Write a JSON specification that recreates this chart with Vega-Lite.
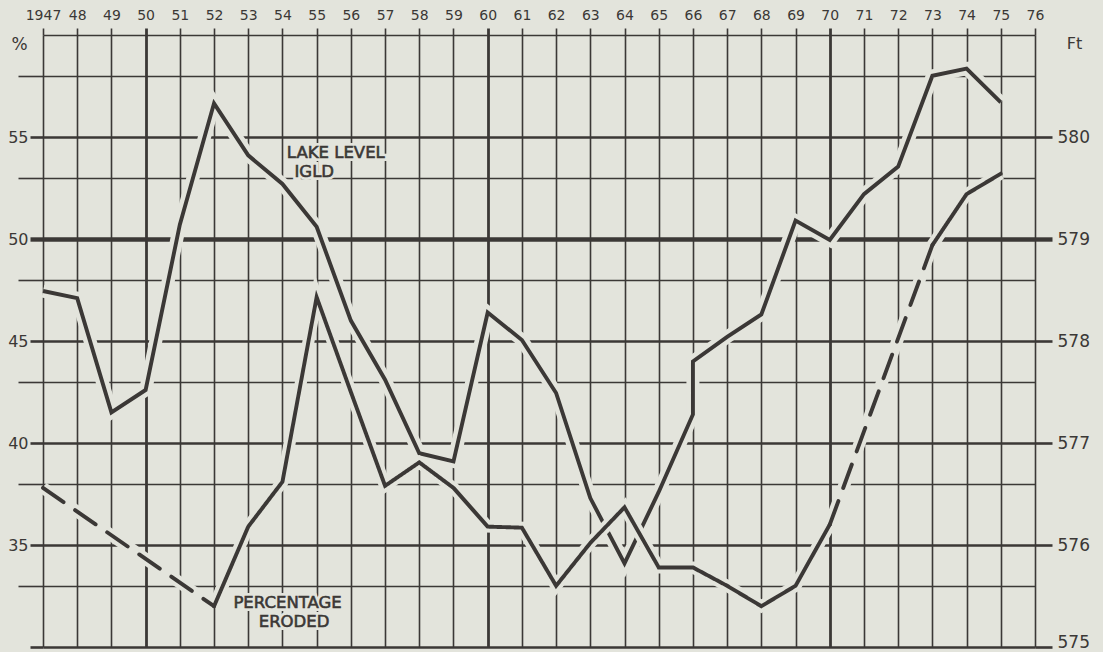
{
  "$schema": "https://vega.github.io/schema/vega-lite/v6.json",
  "width": 992,
  "height": 612,
  "autosize": {"type": "none"},
  "padding": {"left": 43, "top": 35, "right": 68, "bottom": 5},
  "background": "#e3e4dc",
  "config": {
    "view": {"stroke": null},
    "font": "DejaVu Sans",
    "axis": {
      "labelFont": "DejaVu Sans",
      "titleFont": "DejaVu Sans",
      "labelColor": "#3b3836",
      "titleColor": "#3b3836",
      "tickColor": "#3b3836",
      "gridColor": "#3b3836",
      "gridOpacity": 1,
      "domain": false,
      "labelOverlap": false,
      "labelFlush": false
    }
  },
  "datasets": {
    "lake": [
      {"year": 1947, "level_ft": 578.49},
      {"year": 1948, "level_ft": 578.42},
      {"year": 1949, "level_ft": 577.30},
      {"year": 1950, "level_ft": 577.52},
      {"year": 1951, "level_ft": 579.14},
      {"year": 1952, "level_ft": 580.33},
      {"year": 1953, "level_ft": 579.82},
      {"year": 1954, "level_ft": 579.54},
      {"year": 1955, "level_ft": 579.12},
      {"year": 1956, "level_ft": 578.20},
      {"year": 1957, "level_ft": 577.62},
      {"year": 1958, "level_ft": 576.90},
      {"year": 1959, "level_ft": 576.82},
      {"year": 1960, "level_ft": 578.28},
      {"year": 1961, "level_ft": 578.01},
      {"year": 1962, "level_ft": 577.49},
      {"year": 1963, "level_ft": 576.46},
      {"year": 1964, "level_ft": 575.82},
      {"year": 1965, "level_ft": 576.52},
      {"year": 1966, "level_ft": 577.28},
      {"year": 1966, "level_ft": 577.80},
      {"year": 1967, "level_ft": 578.04},
      {"year": 1968, "level_ft": 578.26},
      {"year": 1969, "level_ft": 579.18},
      {"year": 1970, "level_ft": 578.99},
      {"year": 1971, "level_ft": 579.44},
      {"year": 1972, "level_ft": 579.71},
      {"year": 1973, "level_ft": 580.60},
      {"year": 1974, "level_ft": 580.67},
      {"year": 1975, "level_ft": 580.34}
    ],
    "eroded": [
      {"year": 1947, "pct": 37.8, "type": "estimated", "part": "A"},
      {"year": 1952, "pct": 32.0, "type": "estimated", "part": "A"},
      {"year": 1952, "pct": 32.0, "type": "measured", "part": "B"},
      {"year": 1953, "pct": 35.9, "type": "measured", "part": "B"},
      {"year": 1954, "pct": 38.1, "type": "measured", "part": "B"},
      {"year": 1955, "pct": 47.15, "type": "measured", "part": "B"},
      {"year": 1956, "pct": 42.5, "type": "measured", "part": "B"},
      {"year": 1957, "pct": 37.9, "type": "measured", "part": "B"},
      {"year": 1958, "pct": 39.05, "type": "measured", "part": "B"},
      {"year": 1959, "pct": 37.8, "type": "measured", "part": "B"},
      {"year": 1960, "pct": 35.9, "type": "measured", "part": "B"},
      {"year": 1961, "pct": 35.85, "type": "measured", "part": "B"},
      {"year": 1962, "pct": 33.0, "type": "measured", "part": "B"},
      {"year": 1963, "pct": 35.1, "type": "measured", "part": "B"},
      {"year": 1964, "pct": 36.85, "type": "measured", "part": "B"},
      {"year": 1965, "pct": 33.9, "type": "measured", "part": "B"},
      {"year": 1966, "pct": 33.9, "type": "measured", "part": "B"},
      {"year": 1967, "pct": 33.0, "type": "measured", "part": "B"},
      {"year": 1968, "pct": 32.0, "type": "measured", "part": "B"},
      {"year": 1969, "pct": 33.0, "type": "measured", "part": "B"},
      {"year": 1970, "pct": 36.0, "type": "measured", "part": "B"},
      {"year": 1970, "pct": 36.0, "type": "estimated", "part": "C"},
      {"year": 1973, "pct": 49.7, "type": "estimated", "part": "C"},
      {"year": 1973, "pct": 49.7, "type": "measured", "part": "D"},
      {"year": 1974, "pct": 52.2, "type": "measured", "part": "D"},
      {"year": 1975, "pct": 53.2, "type": "measured", "part": "D"}
    ],
    "labels": [
      {"label": "LAKE LEVEL", "year": 1955.56, "pct": 54.23},
      {"label": "IGLD", "year": 1954.93, "pct": 53.3},
      {"label": "PERCENTAGE", "year": 1954.15, "pct": 32.14},
      {"label": "ERODED", "year": 1954.34, "pct": 31.21}
    ]
  },
  "layer": [
    {
      "data": {"name": "lake"},
      "mark": {"type": "line", "stroke": "#e3e4dc", "strokeWidth": 13, "strokeCap": "butt"},
      "encoding": {
        "x": {
          "field": "year", "type": "quantitative",
          "scale": {"domain": [1947, 1976], "nice": false, "zero": false},
          "axis": {
            "orient": "top",
            "values": [1947,1948,1949,1950,1951,1952,1953,1954,1955,1956,1957,1958,1959,1960,1961,1962,1963,1964,1965,1966,1967,1968,1969,1970,1971,1972,1973,1974,1975,1976],
            "labelExpr": "datum.value == 1947 ? '1947' : substring(toString(datum.value), 2, 4)",
            "labelFontSize": 14,
            "labelPadding": 6,
            "labelAngle": 0,
            "tickSize": 7,
            "tickWidth": {"condition": {"test": "datum.value % 10 == 0", "value": 2.8}, "value": 1.6},
            "grid": true,
            "gridWidth": {"condition": {"test": "datum.value % 10 == 0", "value": 2.8}, "value": 1.6},
            "title": null
          }
        },
        "y": {
          "field": "level_ft", "type": "quantitative",
          "scale": {"domain": [575, 581], "nice": false, "zero": false},
          "axis": {
            "orient": "right",
            "values": [575, 576, 577, 578, 579, 580],
            "format": "d",
            "labelFontSize": 17,
            "labelPadding": 5,
            "labelBaseline": {"condition": {"test": "datum.value == 575", "value": "alphabetic"}, "value": "middle"},
            "tickSize": 17,
            "tickWidth": {"condition": {"test": "datum.value == 579", "value": 4.4}, "value": 2.6},
            "grid": true,
            "gridWidth": {"condition": {"test": "datum.value == 579", "value": 4.4}, "value": 2.6},
            "title": "Ft",
            "titleAngle": 0,
            "titleX": 39,
            "titleY": 8,
            "titleAlign": "center",
            "titleBaseline": "middle",
            "titleFontSize": 16,
            "titleFontWeight": "normal"
          }
        }
      }
    },
    {
      "data": {"name": "lake"},
      "mark": {"type": "line", "stroke": "#3b3836", "strokeWidth": 3.9, "strokeJoin": "miter"},
      "encoding": {
        "x": {"field": "year", "type": "quantitative", "scale": {"domain": [1947, 1976], "nice": false, "zero": false}, "axis": null},
        "y": {"field": "level_ft", "type": "quantitative", "scale": {"domain": [575, 581], "nice": false, "zero": false}, "axis": null}
      }
    },
    {
      "data": {"name": "eroded"},
      "mark": {"type": "line", "stroke": "#e3e4dc", "strokeWidth": 12, "strokeCap": "butt"},
      "encoding": {
        "x": {"field": "year", "type": "quantitative", "scale": {"domain": [1947, 1976], "nice": false, "zero": false}, "axis": null},
        "y": {
          "field": "pct", "type": "quantitative",
          "scale": {"domain": [30, 60], "nice": false, "zero": false},
          "axis": {
            "orient": "left",
            "values": [30, 35, 40, 45, 50, 55],
            "labelExpr": "datum.value == 30 ? '' : datum.label",
            "labelFontSize": 16,
            "labelPadding": 2,
            "labelBaseline": "middle",
            "tickSize": 13,
            "tickWidth": {"condition": {"test": "datum.value == 50", "value": 4.4}, "value": 2.6},
            "grid": false,
            "title": "%",
            "titleAngle": 0,
            "titleX": -24,
            "titleY": 9,
            "titleAlign": "center",
            "titleBaseline": "middle",
            "titleFontSize": 17,
            "titleFontWeight": "normal"
          }
        },
        "detail": {"field": "part"}
      }
    },
    {
      "data": {"name": "eroded"},
      "mark": {"type": "line", "stroke": "#3b3836", "strokeWidth": 3.9, "strokeCap": "round", "strokeJoin": "miter"},
      "encoding": {
        "x": {"field": "year", "type": "quantitative", "scale": {"domain": [1947, 1976], "nice": false, "zero": false}, "axis": null},
        "y": {
          "field": "pct", "type": "quantitative",
          "scale": {"domain": [30, 60], "nice": false, "zero": false},
          "axis": {
            "orient": "left",
            "values": [33, 38, 43, 48, 53, 58, 60],
            "labels": false,
            "tickSize": {"condition": {"test": "datum.value == 60", "value": 0}, "value": 25},
            "tickWidth": 1.6,
            "grid": true,
            "gridWidth": 1.6,
            "title": null
          }
        },
        "detail": {"field": "part"},
        "strokeDash": {
          "field": "type", "type": "nominal",
          "scale": {"domain": ["measured", "estimated"], "range": [[1, 0], [25, 14]]},
          "legend": null
        }
      }
    },
    {
      "data": {"name": "labels"},
      "mark": {"type": "text", "font": "DejaVu Sans", "fontSize": 16.5, "align": "center", "baseline": "middle", "fill": "#e3e4dc", "stroke": "#e3e4dc", "strokeWidth": 6},
      "encoding": {
        "x": {"field": "year", "type": "quantitative", "scale": {"domain": [1947, 1976], "nice": false, "zero": false}, "axis": null},
        "y": {"field": "pct", "type": "quantitative", "scale": {"domain": [30, 60], "nice": false, "zero": false}, "axis": null},
        "text": {"field": "label"}
      }
    },
    {
      "data": {"name": "labels"},
      "mark": {"type": "text", "font": "DejaVu Sans", "fontSize": 16.5, "align": "center", "baseline": "middle", "fill": "#3b3836", "stroke": "#3b3836", "strokeWidth": 0.6},
      "encoding": {
        "x": {"field": "year", "type": "quantitative", "scale": {"domain": [1947, 1976], "nice": false, "zero": false}, "axis": null},
        "y": {"field": "pct", "type": "quantitative", "scale": {"domain": [30, 60], "nice": false, "zero": false}, "axis": null},
        "text": {"field": "label"}
      }
    },
    {
      "mark": {"type": "rule", "stroke": "#3b3836", "strokeWidth": 1.8},
      "encoding": {
        "x": {"datum": 1954.23, "type": "quantitative", "scale": {"domain": [1947, 1976], "nice": false, "zero": false}, "axis": null},
        "x2": {"datum": 1955.6},
        "y": {"datum": 52.91, "type": "quantitative", "scale": {"domain": [30, 60], "nice": false, "zero": false}, "axis": null}
      }
    }
  ],
  "resolve": {
    "scale": {"y": "independent"},
    "axis": {"x": "independent", "y": "independent"}
  }
}
